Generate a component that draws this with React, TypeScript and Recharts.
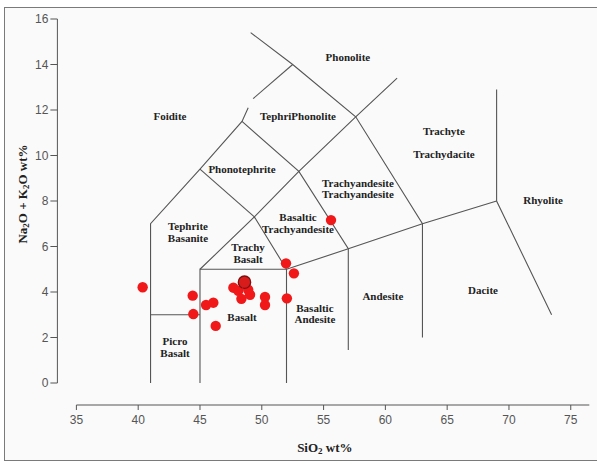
import { Label, Scatter, ScatterChart, XAxis, YAxis } from "recharts";

// TAS diagram (total alkali vs silica)

const X_TICKS = [35, 40, 45, 50, 55, 60, 65, 70, 75];
const Y_TICKS = [0, 2, 4, 6, 8, 10, 12, 14, 16];

// field boundaries, [SiO2, Na2O+K2O]
const BOUNDARIES: number[][][] = [
  [[41, 0], [41, 7], [45, 9.4], [48.4, 11.5], [48.9, 12.1]],
  [[49.3, 12.5], [52.5, 14]],
  [[41, 3], [45, 3]],
  [[45, 0], [45, 5], [52, 5], [52, 0]],
  [[45, 5], [49.4, 7.3], [52, 5]],
  [[45, 9.4], [49.4, 7.3]],
  [[49.4, 7.3], [53, 9.3], [57.6, 11.7], [60.95, 13.4]],
  [[48.4, 11.5], [53, 9.3], [57, 5.9], [57, 1.45]],
  [[52, 5], [57, 5.9], [63, 7], [69, 8]],
  [[49.1, 15.4], [52.5, 14], [57.6, 11.7], [63, 7], [63, 2]],
  [[69, 12.9], [69, 8], [73.45, 3]],
];

const REGION_NAMES = [
  "Phonolite", "Foidite", "TephriPhonolite", "Trachyte", "Trachydacite",
  "Phonotephrite", "Trachyandesite", "Trachyandesite", "Rhyolite",
  "Basaltic", "Trachyandesite", "Tephrite", "Basanite", "Trachy", "Basalt",
  "Basalt", "Basaltic", "Andesite", "Andesite", "Dacite", "Picro", "Basalt",
];
const REGION_SIO2 = [
  56.97, 42.57, 52.93, 64.74, 64.74,
  48.4, 57.78, 57.78, 72.76,
  52.93, 52.93, 44.03, 44.03, 48.89, 48.89,
  48.4, 54.3, 54.3, 59.8, 67.9, 42.98, 42.98,
];
const REGION_ALKALI = [
  14.33, 11.74, 11.74, 11.08, 10.07,
  9.41, 8.79, 8.31, 8.04,
  7.3, 6.77, 6.9, 6.37, 5.98, 5.45,
  2.9, 3.3, 2.81, 3.82, 4.09, 1.85, 1.32,
];

const SAMPLE_SIO2 = [
  40.36, 44.41, 44.46, 45.49, 46.08, 46.27, 47.7, 48.1, 48.35, 48.9,
  49.05, 50.26, 50.26, 52.03, 52.6, 51.96, 55.6,
];
const SAMPLE_ALKALI = [
  4.21, 3.84, 3.03, 3.43, 3.53, 2.51, 4.19, 4.05, 3.7, 4.1,
  3.88, 3.78, 3.43, 3.72, 4.82, 5.26, 7.16,
];
const HIGHLIGHT_SIO2 = [48.6];
const HIGHLIGHT_ALKALI = [4.43];

const SERIF = '"Liberation Serif", "Times New Roman", serif';
const SANS = '"Liberation Sans", Arial, sans-serif';
const LINE = "#555";

const boundaryData = BOUNDARIES.map((seg) => seg.map(([x, y]) => ({ x, y })));
const regionData = REGION_NAMES.map((name, i) => ({
  name,
  x: REGION_SIO2[i],
  y: REGION_ALKALI[i],
}));
const sampleData = SAMPLE_SIO2.map((x, i) => ({ x, y: SAMPLE_ALKALI[i] }));
const highlightData = HIGHLIGHT_SIO2.map((x, i) => ({ x, y: HIGHLIGHT_ALKALI[i] }));

const YTick = (props: any) => (
  <text
    x={props.x - 19}
    y={props.y}
    dy="0.36em"
    textAnchor="end"
    fontSize={12}
    fontFamily={SANS}
    fill="#555"
  >
    {props.payload.value}
  </text>
);

const XTick = (props: any) => (
  <text
    x={props.x}
    y={props.y + 22}
    dy="0.71em"
    textAnchor="middle"
    fontSize={12}
    fontFamily={SANS}
    fill="#555"
  >
    {props.payload.value}
  </text>
);

const RegionText = (props: any) => (
  <text
    x={props.cx}
    y={props.cy}
    dy="0.35em"
    textAnchor="middle"
    fontSize={11}
    fontWeight="bold"
    fontFamily={SERIF}
    fill="#222"
  >
    {props.payload.name}
  </text>
);

const XLabel = (props: any) => {
  const vb = props.viewBox;
  return (
    <text
      x={vb.x + vb.width / 2 - 8}
      y={vb.y + 69}
      textAnchor="middle"
      fontSize={13}
      fontWeight="bold"
      fontFamily={SERIF}
      fill="#222"
    >
      SiO<tspan fontSize={9} dy={2}>2</tspan>
      <tspan dy={-2}> wt%</tspan>
    </text>
  );
};

const YLabel = (props: any) => {
  const vb = props.viewBox;
  const cx = vb.x + 6;
  const cy = 194;
  return (
    <text
      x={cx}
      y={cy}
      transform={`rotate(-90, ${cx}, ${cy})`}
      dy="0.35em"
      textAnchor="middle"
      fontSize={13}
      fontWeight="bold"
      fontFamily={SERIF}
      fill="#222"
    >
      Na<tspan fontSize={9} dy={2}>2</tspan>
      <tspan dy={-2}>O + K</tspan>
      <tspan fontSize={9} dy={2}>2</tspan>
      <tspan dy={-2}>O wt%</tspan>
    </text>
  );
};

export default function App() {
  return (
    <div style={{ position: "absolute", left: 0, top: 0, width: 597, height: 462, background: "#fff", overflow: "hidden" }}>
      <div
        style={{
          position: "absolute",
          left: 4,
          top: 7,
          width: 620,
          height: 452,
          border: "1px solid #7a7a7a",
          background: "#fafafa",
        }}
      />
      <div style={{ position: "absolute", left: 0, top: 0 }}>
        <ScatterChart
          width={597}
          height={462}
          margin={{ top: 19, right: 7.7, bottom: 39, left: 16.4 }}
        >
          <XAxis
            type="number"
            dataKey="x"
            domain={[35, 76.5]}
            ticks={X_TICKS}
            allowDataOverflow
            height={40}
            tickSize={5}
            tickMargin={5}
            axisLine={{ stroke: LINE, transform: "translate(0,22)" }}
            tickLine={{ stroke: LINE, transform: "translate(0,22)" }}
            tick={<XTick />}
          >
            <Label content={<XLabel />} />
          </XAxis>
          <YAxis
            type="number"
            dataKey="y"
            domain={[0, 16]}
            ticks={Y_TICKS}
            allowDataOverflow
            width={60}
            tickSize={7}
            tickMargin={2}
            axisLine={{ stroke: LINE, transform: "translate(-19,0)" }}
            tickLine={{ stroke: LINE, transform: "translate(-19,0)" }}
            tick={<YTick />}
          >
            <Label content={<YLabel />} />
          </YAxis>
          {boundaryData.map((seg, i) => (
            <Scatter
              key={i}
              data={seg}
              line={{ stroke: LINE, strokeWidth: 1.1 }}
              shape={() => <g />}
              isAnimationActive={false}
            />
          ))}
          <Scatter data={regionData} shape={<RegionText />} isAnimationActive={false} />
          <Scatter
            data={sampleData}
            shape={(p: any) => <circle cx={p.cx} cy={p.cy} r={5.2} fill="#f01818" />}
            isAnimationActive={false}
          />
          <Scatter
            data={highlightData}
            shape={(p: any) => (
              <circle cx={p.cx} cy={p.cy} r={6.2} fill="#d81c1c" stroke="#7a1212" strokeWidth={1.3} />
            )}
            isAnimationActive={false}
          />
        </ScatterChart>
      </div>
    </div>
  );
}
